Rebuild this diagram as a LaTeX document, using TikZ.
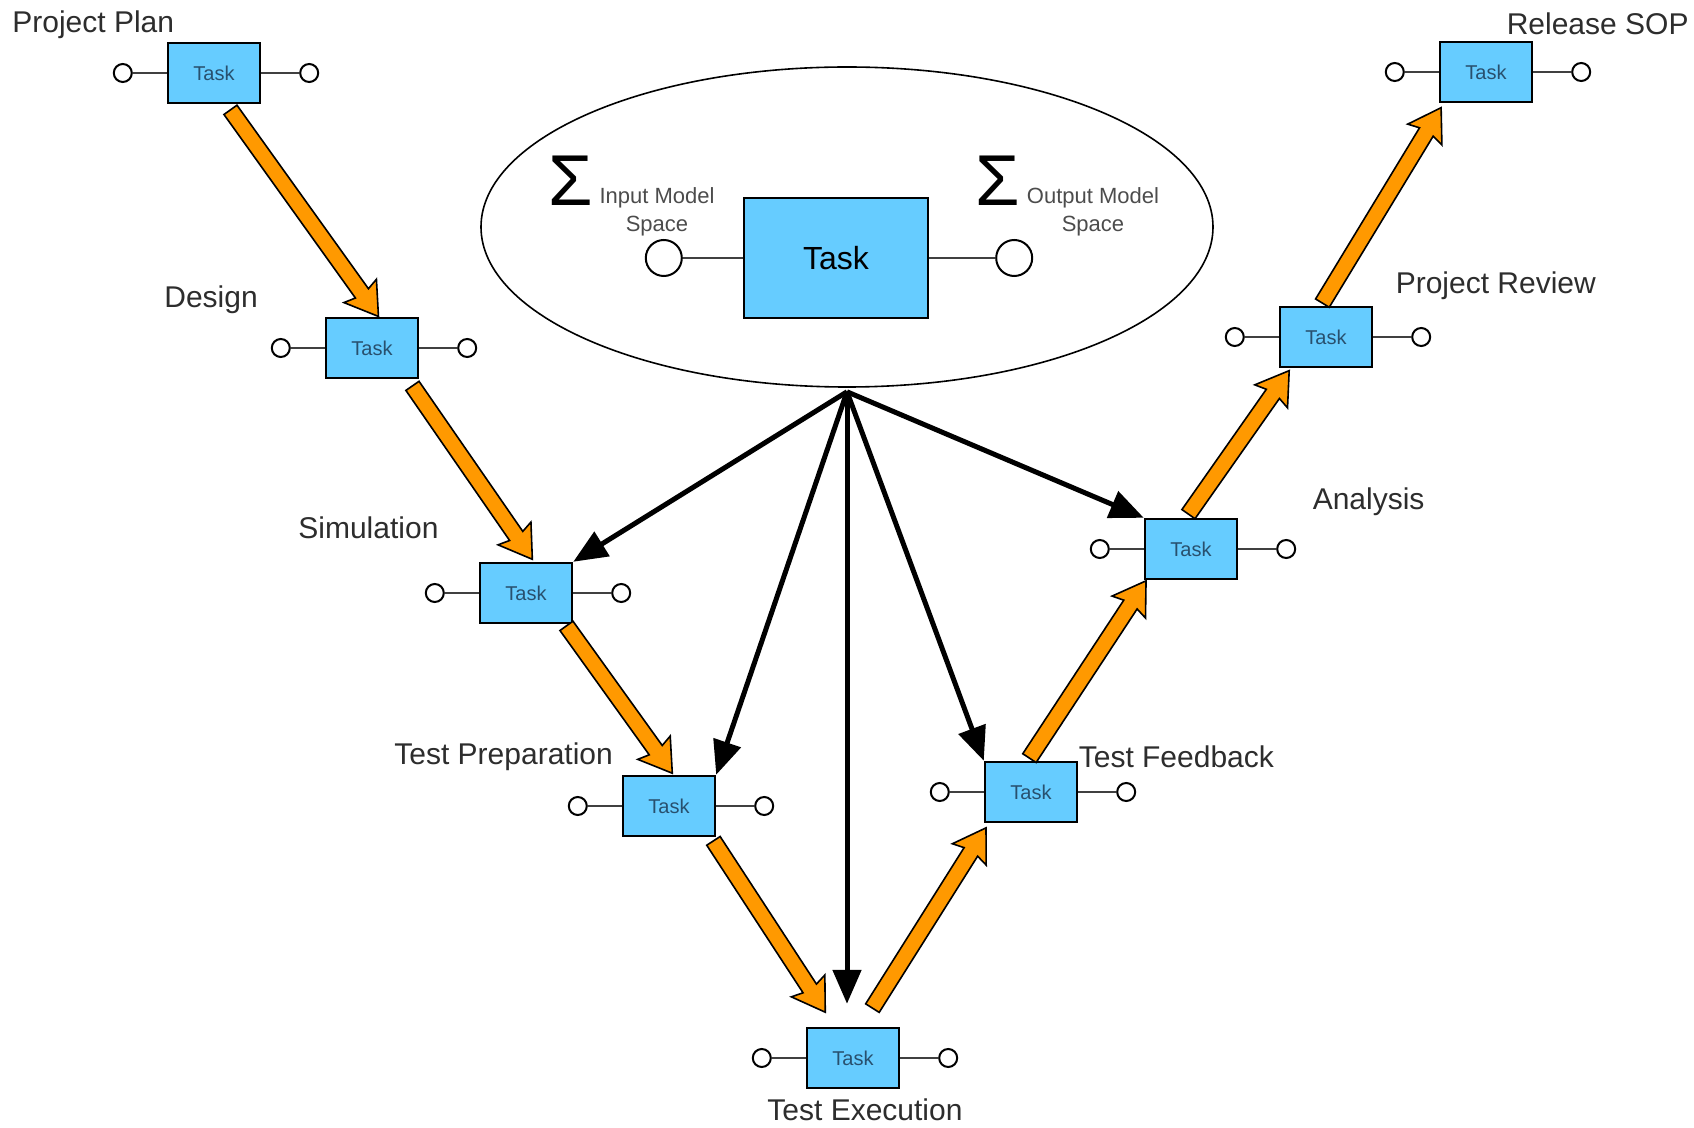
\documentclass[tikz,border=0pt]{standalone}
\usepackage{fontspec}
\setmainfont{Liberation Sans}
\usepackage{tikz}
\usetikzlibrary{arrows.meta,positioning,calc,shapes.geometric,shapes.arrows}
\definecolor{taskfill}{RGB}{102,204,255}
\definecolor{flowfill}{RGB}{255,153,0}
\definecolor{tasktext}{RGB}{40,80,110}
\definecolor{labeltext}{RGB}{45,45,45}

\begin{document}
\begin{tikzpicture}[x=0.5pt,y=-0.5pt,>={Triangle[length=17pt,width=14pt]},
                    semithick]
\tikzstyle{task}=[draw=black,line width=1.2pt,fill=taskfill,minimum width=46pt,minimum height=30pt,inner sep=0pt,text=tasktext,font=\fontsize{10}{12}\selectfont]
\tikzstyle{bigtask}=[task,minimum width=92pt,minimum height=60pt,text=black,font=\fontsize{16}{19}\selectfont]
\tikzstyle{port}=[circle,draw=black,line width=1pt,fill=white,minimum size=9pt,inner sep=0pt]
\tikzstyle{bigport}=[port,minimum size=18pt]
\tikzstyle{portline}=[draw=black!75,line width=1.3pt]
\tikzstyle{lbl}=[anchor=west,inner sep=0pt,text=labeltext,font=\fontsize{15}{18}\selectfont]
\tikzstyle{space}=[align=center,inner sep=0pt,text=black!70,font=\fontsize{11}{14}\selectfont]
\tikzstyle{feed}=[->,line width=2.5pt]
\tikzstyle{flow}=[single arrow,draw=black,line width=0.8pt,fill=flowfill,inner xsep=0pt,inner ysep=3.6pt,minimum width=0pt,single arrow head extend=6pt,single arrow tip angle=65,single arrow head indent=1.5pt]

\useasboundingbox (0,0) rectangle (1694,1128);

% the V of tasks
\node[task] (plan) at (214,73) {Task};
\node[task] (design) at ([shift={(158,275)}]plan) {Task};
\node[task] (sim) at ([shift={(154,245)}]design) {Task};
\node[task] (prep) at ([shift={(143,213)}]sim) {Task};
\node[task] (exec) at ([shift={(184,252)}]prep) {Task};
\node[task] (feedback) at ([shift={(178,-266)}]exec) {Task};
\node[task] (analysis) at ([shift={(160,-243)}]feedback) {Task};
\node[task] (review) at ([shift={(135,-212)}]analysis) {Task};
\node[task] (release) at ([shift={(160,-265)}]review) {Task};

\foreach \t in {plan,design,sim,prep,exec,feedback,analysis,review,release}{
  \node[port] (\t-in) [left=17pt of \t] {};
  \node[port] (\t-out) [right=19pt of \t] {};
  \draw[portline] (\t-in) -- (\t) -- (\t-out);
}

\node[lbl] (plan-lbl) at ([shift={(-155,-17)}]plan.north west) {Project Plan};
\node[lbl] (design-lbl) at ([shift={(-161,-17)}]design.north west) {Design};
\node[lbl] (sim-lbl) at ([shift={(-181,-34)}]sim.north west) {Simulation};
\node[lbl] (prep-lbl) at ([shift={(-228,-18)}]prep.north west) {Test Preparation};
\node[lbl,anchor=center] (exec-lbl) at ([shift={(12,21)}]exec.south) {Test Execution};
\node[lbl] (feedback-lbl) at ([shift={(0,-4)}]feedback.north east) {Test Feedback};
\node[lbl] (analysis-lbl) at ([shift={(74,-16)}]analysis.north east) {Analysis};
\node[lbl] (review-lbl) at ([shift={(22,-20)}]review.north east) {Project Review};
\node[lbl] (release-lbl) at ([shift={(-27,-17)}]release.north east) {Release SOP};

% the model in the middle
\node[ellipse,draw=black,line width=0.8pt,minimum width=366pt,minimum height=160pt] (model) at (847,227) {};
\node[bigtask] (big) at ([shift={(-11,31)}]model) {Task};
\node[bigport] (big-in) [left=30pt of big] {};
\node[bigport] (big-out) [right=33pt of big] {};
\draw[portline] (big-in) -- (big) -- (big-out);
\node[font=\fontsize{36}{36}\selectfont,inner sep=0pt] (insum) at ([shift={(-265,-77)}]big) {Σ};
\node[space] (inspace) at ([shift={(-179,-46)}]big) {Input Model\\Space};
\node[font=\fontsize{36}{36}\selectfont,inner sep=0pt] (outsum) at ([shift={(162,-77)}]big) {Σ};
\node[space] (outspace) at ([shift={(257,-46)}]big) {Output Model\\Space};

\coordinate (hub) at ([shift={(0,4)}]model.south);
\draw[feed] (hub) -- (sim.north east);
\draw[feed] (hub) -- (prep.north east);
\draw[feed] (hub) -- ([shift={(-6,-23)}]exec.north);
\draw[feed] (hub) -- (feedback.north west);
\draw[feed] (hub) -- (analysis.north west);

% orange flow arrows
\coordinate (s1) at ([shift={(16,5)}]plan.south);
\coordinate (e1) at ([shift={(6,-1)}]design.north);
\coordinate (s2) at ([shift={(40,6)}]design.south);
\coordinate (e2) at ([shift={(6,-3)}]sim.north);
\coordinate (s3) at ([shift={(40,1)}]sim.south);
\coordinate (e3) at ([shift={(3,-2)}]prep.north);
\coordinate (s4) at ([shift={(44,3)}]prep.south);
\coordinate (e4) at ([shift={(-28,-15)}]exec.north);
\coordinate (s5) at ([shift={(19,-18)}]exec.north);
\coordinate (e5) at ([shift={(2,5)}]feedback.south west);
\coordinate (s6) at ([shift={(-2,-2)}]feedback.north);
\coordinate (e6) at ([shift={(2,1)}]analysis.south west);
\coordinate (s7) at ([shift={(-3,-3)}]analysis.north);
\coordinate (e7) at ([shift={(10,3)}]review.south west);
\coordinate (s8) at ([shift={(-4,-2)}]review.north);
\coordinate (e8) at ([shift={(2,5)}]release.south west);
\foreach \a/\b in {s1/e1,s2/e2,s3/e3,s4/e4,s5/e5,s6/e6,s7/e7,s8/e8}
  \path let \p1=($(\b)-(\a)$) in
    node[flow,minimum height={veclen(\x1,\y1)},rotate={atan2(\y1,\x1)},anchor=tail] at (\a) {};

\end{tikzpicture}
\end{document}
